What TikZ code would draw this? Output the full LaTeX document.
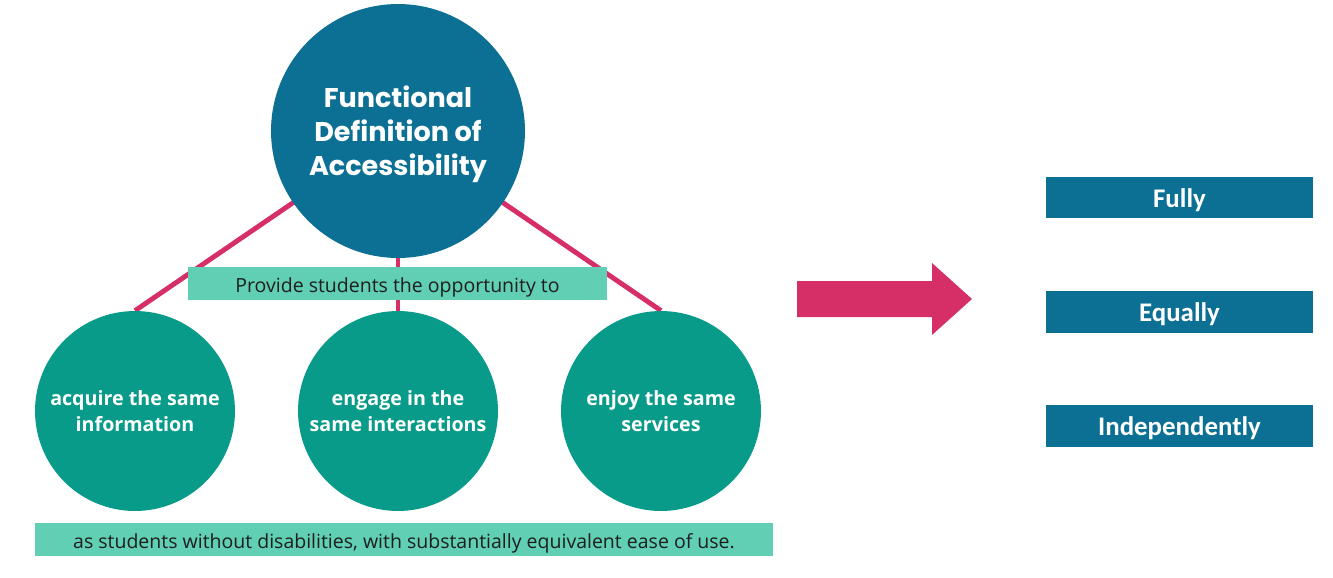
\documentclass[tikz,border=0pt]{standalone}
\usepackage{fontspec}
\setmainfont{Open Sans}
\newfontfamily\titlefont{Poppins}
\newfontfamily\boxfont{Carlito}
\usetikzlibrary{backgrounds}
\definecolor{darkblue}{RGB}{11,112,147}
\definecolor{teal}{RGB}{9,155,137}
\definecolor{mint}{RGB}{96,207,180}
\definecolor{pinkred}{RGB}{214,47,104}
\definecolor{darktext}{RGB}{30,30,30}
\begin{document}
\begin{tikzpicture}[x=0.02cm, y=-0.02cm,
  topcirc/.style={circle, fill=darkblue, minimum size=5.08cm, inner sep=0pt},
  toptext/.style={text=white, align=center, font=\titlefont\bfseries\fontsize{15.4}{19.4}\selectfont},
  subcirc/.style={circle, fill=teal, text=white, minimum size=4cm,
                  inner sep=0pt, align=center, font=\bfseries\fontsize{11.2}{14.8}\selectfont},
  band/.style={fill=mint, text=darktext, inner sep=0pt, minimum height=0.66cm,
               text height=11pt, text depth=1pt, font=\fontsize{11.1}{12}\selectfont},
  outcome/.style={fill=darkblue, text=white, inner sep=0pt, minimum width=5.34cm,
                  minimum height=0.84cm, text height=13pt, text depth=2pt,
                  font=\boxfont\bfseries\fontsize{15.3}{17}\selectfont},
  link/.style={draw=pinkred, line width=2.8pt}
]
  \useasboundingbox (0,0) rectangle (1333,578);

  \node[topcirc] (def) at (398,131) {};
  \node[toptext] (deftxt) at (398,134) {Functional\\Definition of\\Accessibility};

  \node[subcirc] (info) at (135,411) {acquire the same\\information};
  \node[subcirc] (inter) at (398,411) {engage in the\\same interactions};
  \node[subcirc] (serv) at (661,411) {enjoy the same\\services};

  \begin{scope}[on background layer]
    \draw[link] (def.center) -- (info.north);
    \draw[link] (def.center) -- (inter.north);
    \draw[link] (def.center) -- (serv.north);
  \end{scope}

  \node[band, minimum width=8.38cm] (opp) at (397.5,283.5) {Provide students the opportunity to};
  \node[band, minimum width=14.76cm] (ease) at (404,539.5)
    {as students without disabilities, with substantially equivalent ease of use.};

  % big arrow
  \fill[pinkred] (797,281) -- (932,281) -- (932,263) -- (972,299) -- (932,335)
    -- (932,317) -- (797,317) -- cycle;

  \node[outcome] (fully) at (1179.5,197.5) {Fully};
  \node[outcome] (equal) at (1179.5,312) {Equally};
  \node[outcome] (indep) at (1179.5,426) {Independently};
\end{tikzpicture}
\end{document}
